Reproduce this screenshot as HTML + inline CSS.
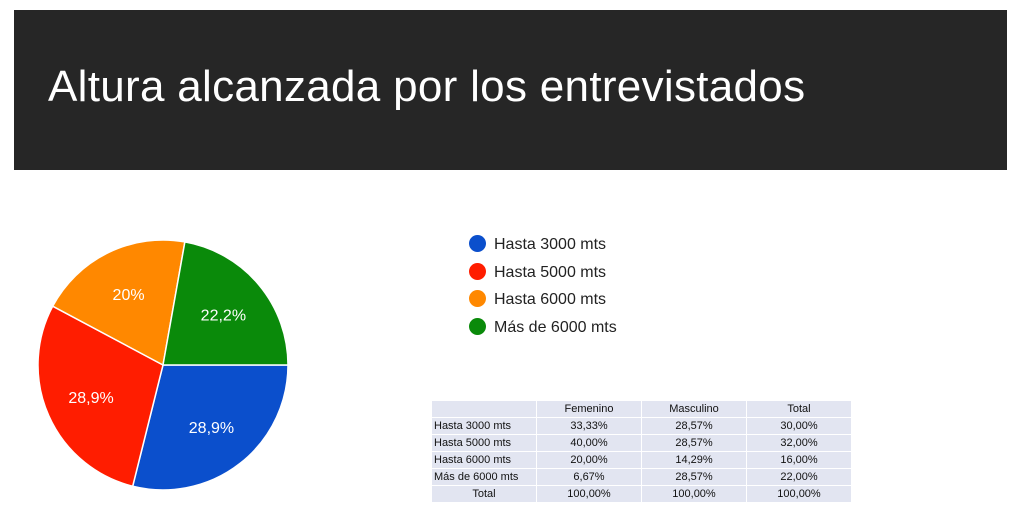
<!DOCTYPE html>
<html><head><meta charset="utf-8"><style>
body{margin:0;width:1024px;height:523px;background:#fff;font-family:"Liberation Sans",sans-serif;position:relative;overflow:hidden}
#bar{position:absolute;left:14px;top:10px;width:993px;height:160px;background:#262626}
#title{position:absolute;left:34px;top:52px;color:#fff;font-size:44px;font-weight:300;letter-spacing:0.3px}
.leg{position:absolute;left:469px;font-size:16px;color:#222;height:20px;line-height:20px}
.leg i{display:inline-block;width:17px;height:17px;border-radius:50%;vertical-align:-3px;margin-right:8px}
table{position:absolute;left:431px;top:400px;border-collapse:collapse;font-size:11px;color:#111}
td{background:#e2e5f1;border:1px solid #fff;height:16px;padding:0 2px;text-align:center;width:100px}
td:first-child{text-align:left;width:100px}
</style></head><body>
<div id="bar"><div id="title">Altura alcanzada por los entrevistados</div></div>
<svg id="pie" width="1024" height="523" style="position:absolute;left:0;top:0"></svg>
<div class="leg" style="top:235px"><i style="background:#0b4fcc"></i>Hasta 3000 mts</div>
<div class="leg" style="top:263px"><i style="background:#ff1d00"></i>Hasta 5000 mts</div>
<div class="leg" style="top:290px"><i style="background:#ff8800"></i>Hasta 6000 mts</div>
<div class="leg" style="top:318px"><i style="background:#0a8a0a"></i>Más de 6000 mts</div>
<table>
<tr><td></td><td>Femenino</td><td>Masculino</td><td>Total</td></tr>
<tr><td>Hasta 3000 mts</td><td>33,33%</td><td>28,57%</td><td>30,00%</td></tr>
<tr><td>Hasta 5000 mts</td><td>40,00%</td><td>28,57%</td><td>32,00%</td></tr>
<tr><td>Hasta 6000 mts</td><td>20,00%</td><td>14,29%</td><td>16,00%</td></tr>
<tr><td>Más de 6000 mts</td><td>6,67%</td><td>28,57%</td><td>22,00%</td></tr>
<tr><td style="text-align:center">Total</td><td>100,00%</td><td>100,00%</td><td>100,00%</td></tr>
</table>
<script>
const categories=["Hasta 3000 mts","Hasta 5000 mts","Hasta 6000 mts","Más de 6000 mts"];
const values=[28.9,28.9,20,22.2];
const labels=["28,9%","28,9%","20%","22,2%"];
const colors=["#0b4fcc","#ff1d00","#ff8800","#0a8a0a"];
const svg=document.getElementById('pie');const NS="http://www.w3.org/2000/svg";
const cx=163,cy=365,r=125;
const total=values.reduce((a,b)=>a+b,0);
let a0=0;
values.forEach((v,i)=>{
 const a1=a0+v/total*2*Math.PI;
 const x0=cx+r*Math.cos(a0),y0=cy+r*Math.sin(a0),x1=cx+r*Math.cos(a1),y1=cy+r*Math.sin(a1);
 const p=document.createElementNS(NS,'path');
 p.setAttribute('d',`M${cx},${cy}L${x0},${y0}A${r},${r} 0 ${a1-a0>Math.PI?1:0} 1 ${x1},${y1}Z`);
 p.setAttribute('fill',colors[i]);p.setAttribute('stroke','#fff');p.setAttribute('stroke-width','1.5');
 
 
 svg.appendChild(p);
 const am=(a0+a1)/2;
 const t=document.createElementNS(NS,'text');
 t.setAttribute('x',cx+r*0.63*Math.cos(am));t.setAttribute('y',cy+r*0.63*Math.sin(am)+6);
 t.setAttribute('text-anchor','middle');t.setAttribute('fill','#fff');t.setAttribute('font-size','16');
 t.setAttribute('font-family','Liberation Sans, sans-serif');
 t.textContent=labels[i];
 
 
 svg.appendChild(t);
 a0=a1;
});
</script>
</body></html>
